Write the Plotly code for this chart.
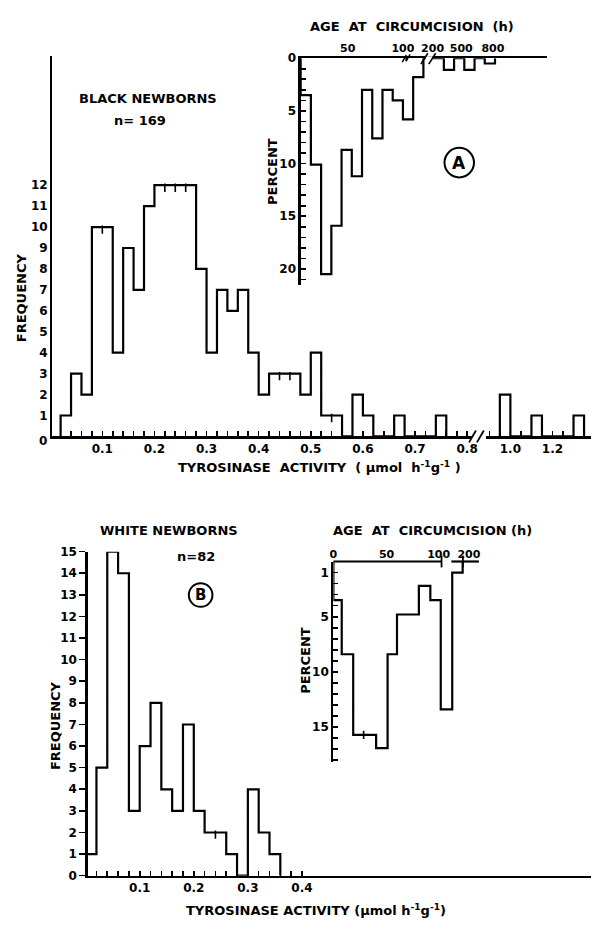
import plotly.graph_objects as go

W, H = 597, 928
def fx(p): return p / W
def fy(p): return 1 - p / H

FONT = "DejaVu Sans"

# ---------------- data ----------------
# Panel A main histogram (Black newborns), bin width 0.02
black_bin_lo = [0.02, 0.04, 0.06, 0.08, 0.10, 0.12, 0.14, 0.16, 0.18, 0.20,
                0.22, 0.24, 0.26, 0.28, 0.30, 0.32, 0.34, 0.36, 0.38, 0.40,
                0.42, 0.44, 0.46, 0.48, 0.50, 0.52, 0.54, 0.56, 0.58, 0.60,
                0.62, 0.64, 0.66, 0.68, 0.70, 0.72, 0.74]
black_freq = [1, 3, 2, 10, 10, 4, 9, 7, 11, 12,
              12, 12, 12, 8, 4, 7, 6, 7, 4, 2,
              3, 3, 3, 2, 4, 1, 1, 0, 2, 1,
              0, 0, 1, 0, 0, 0, 1]
black_bin_w = 0.02
# after the axis break, bin width 0.05
black_hi_bin_lo = [0.95, 1.00, 1.05, 1.10, 1.15, 1.20, 1.25, 1.30]
black_hi_freq = [2, 0, 0, 1, 0, 0, 0, 1]
black_hi_bin_w = 0.05

# Panel B main histogram (White newborns)
white_bin_lo = [0.00, 0.02, 0.04, 0.06, 0.08, 0.10, 0.12, 0.14, 0.16, 0.18,
                0.20, 0.22, 0.24, 0.26, 0.28, 0.30, 0.32, 0.34]
white_freq = [1, 5, 15, 14, 3, 6, 8, 4, 3, 7, 3, 2, 2, 1, 0, 4, 2, 1]
white_bin_w = 0.02

# Inset A: age at circumcision (broken axis, position units)
age_a_bin_lo = [0, 10, 20, 30, 40, 50, 60, 70, 80, 90, 100, 110,
                120, 130, 140, 150, 160, 170, 180]
age_a_pct = [3.5, 10.1, 20.5, 15.9, 8.7, 11.2, 3.0, 7.6, 3.0, 4.0, 5.8, 1.8,
             0, 0, 1.1, 0, 1.1, 0, 0.5]
age_a_bin_w = 10
age_a_tickpos = [46, 100, 129, 157, 188]
age_a_ticktext = ["50", "100", "200", "500", "800"]
age_a_tickmarks = [10, 20, 30, 40, 50, 60, 70, 80, 90, 100, 150, 170, 201]

# Inset B
age_b_edges = [0, 8, 19, 29, 41, 52, 61, 82, 93, 103, 114, 124]
age_b_pct = [3.5, 8.4, 15.7, 15.7, 16.9, 8.4, 4.8, 2.2, 3.5, 13.4, 1.0]
age_b_tickpos = [0, 51, 101, 130]
age_b_ticktext = ["0", "50", "100", "200"]
age_b_tickmarks = [10, 20, 30, 40, 50, 60, 70, 80, 90, 100]

# axis tick grids (value, label)
top_x_ticks = [round(0.02 * i, 2) for i in range(1, 41)]
top_x_labels = ["0.1", "0.2", "0.3", "0.4", "0.5", "0.6", "0.7", "0.8"]
hi_x_ticks = [0.90, 0.95, 1.00, 1.05, 1.10, 1.15, 1.20, 1.25, 1.30, 1.35]
hi_x_labels = ["1.0", "1.2"]
bot_x_ticks = [round(0.02 * i, 2) for i in range(1, 21)]
bot_x_labels = ["0.1", "0.2", "0.3", "0.4"]


def lab(vals, labels):
    out = []
    for v in vals:
        s = f"{v:.1f}"
        out.append(s if s in labels and abs(v - float(s)) < 1e-9 else "")
    return out


def step_xy(edges, vals):
    xs = [edges[0]] + edges[:len(vals)] + [edges[len(vals)]]
    ys = [0] + list(vals) + [0]
    return xs, ys


def edges_from(lo, w):
    return list(lo) + [lo[-1] + w]


def equal_marks(edges, vals, drop):
    mx, my = [], []
    for i in range(len(vals) - 1):
        if vals[i] == vals[i + 1] and vals[i] > 0:
            mx.append(edges[i + 1])
            my.append(vals[i] - drop)
    return mx, my


fig = go.Figure()
LINE = dict(color="black", width=2.2)
MARK = dict(symbol="line-ns", size=6, line=dict(color="black", width=1.6))


def add_hist(edges, vals, xa, ya, drop):
    xs, ys = step_xy(edges, vals)
    fig.add_trace(go.Scatter(x=xs, y=ys, mode="lines", line=LINE, line_shape="hv",
                             xaxis=xa, yaxis=ya, hoverinfo="skip"))
    mx, my = equal_marks(edges, vals, drop)
    if mx:
        fig.add_trace(go.Scatter(x=mx, y=my, mode="markers", marker=MARK,
                                 xaxis=xa, yaxis=ya, hoverinfo="skip"))


add_hist(edges_from(black_bin_lo, black_bin_w), black_freq, "x", "y", 0.12)
add_hist(edges_from(black_hi_bin_lo, black_hi_bin_w), black_hi_freq, "x2", "y", 0.12)
add_hist(edges_from(age_a_bin_lo, age_a_bin_w), age_a_pct, "x3", "y3", 0.0)
add_hist(age_b_edges, age_b_pct, "x4", "y4", 0.0)
add_hist(edges_from(white_bin_lo, white_bin_w), white_freq, "x5", "y5", 0.1)

TF = dict(family=FONT, size=12, color="black", weight="bold")
TF11 = dict(family=FONT, size=11, color="black", weight="bold")
common = dict(showgrid=False, zeroline=False, linecolor="black", linewidth=2.2,
              tickcolor="black", tickwidth=1.6, fixedrange=True, tickangle=0)

a_y_ticks = list(range(0, 22))
b_y_ticks = list(range(1, 19))

fig.update_layout(
    width=W, height=H, margin=dict(l=0, r=0, t=0, b=0),
    paper_bgcolor="white", plot_bgcolor="rgba(0,0,0,0)", showlegend=False,
    xaxis=dict(domain=[fx(49), fx(476)], range=[0.0038, 0.8094], anchor="y",
               showline=True, ticks="inside", ticklen=5, tickfont=TF,
               tickvals=top_x_ticks, ticktext=lab(top_x_ticks, top_x_labels), **common),
    xaxis2=dict(domain=[fx(490), 1], range=[0.8832, 1.383], anchor="y",
                showline=True, ticks="inside", ticklen=5, tickfont=TF,
                tickvals=hi_x_ticks, ticktext=lab(hi_x_ticks, hi_x_labels), **common),
    yaxis=dict(domain=[fy(436), fy(50)], range=[0, 18.16], anchor="x", tickfont=TF,
               showline=True, ticks="", tickvals=list(range(1, 13)), **common),
    xaxis3=dict(domain=[fx(301.7), fx(552)], range=[0, 240.6], anchor="y3", side="top",
                showline=True, ticks="", tickvals=age_a_tickpos, ticktext=age_a_ticktext,
                tickfont=TF11, **common),
    xaxis6=dict(domain=[fx(301.7), fx(552)], range=[0, 240.6], anchor="y3", side="top",
                overlaying="x3", showline=False, ticks="inside", ticklen=5,
                tickvals=age_a_tickmarks, showticklabels=False, **common),
    yaxis3=dict(domain=[fy(282), fy(52)], range=[21.5, 0], anchor="x3", tickfont=TF,
                showline=True, ticks="inside", ticklen=5, tickvals=a_y_ticks,
                ticktext=[str(v) if v % 5 == 0 else "" for v in a_y_ticks], **common),
    xaxis4=dict(domain=[fx(335), fx(483)], range=[0, 139.6], anchor="y4", side="top",
                showline=False, ticks="", tickvals=age_b_tickpos, ticktext=age_b_ticktext,
                tickfont=TF11, **common),
    xaxis7=dict(domain=[fx(335), fx(483)], range=[0, 139.6], anchor="y4", side="top",
                overlaying="x4", showline=False, ticks="inside", ticklen=5,
                tickvals=age_b_tickmarks, showticklabels=False, **common),
    yaxis4=dict(domain=[fy(767), fy(563)], range=[18.2, 0], anchor="x4", tickfont=TF,
                showline=True, ticks="inside", ticklen=5, tickvals=b_y_ticks,
                ticktext=[str(v) if v in (1, 5, 10, 15) else "" for v in b_y_ticks], **common),
    xaxis5=dict(domain=[fx(85), 1], range=[0.0036, 0.9345], anchor="y5",
                showline=True, ticks="inside", ticklen=5, tickfont=TF,
                tickvals=bot_x_ticks, ticktext=lab(bot_x_ticks, bot_x_labels), **common),
    yaxis5=dict(domain=[fy(882), fy(553)], range=[0, 15], anchor="x5", tickfont=TF,
                showline=True, ticks="outside", ticklen=6, tickvals=list(range(0, 16)),
                **common),
    yaxis6=dict(domain=[fy(882), fy(553)], range=[0, 15], anchor="x5", overlaying="y5",
                showline=False, ticks="inside", ticklen=5, tickvals=list(range(0, 16)),
                showticklabels=False, **common),
)


def seg(x0, y0, x1, y1, w=2.2):
    fig.add_shape(type="line", xref="paper", yref="paper",
                  x0=fx(x0), y0=fy(y0), x1=fx(x1), y1=fy(y1),
                  line=dict(color="black", width=w))


def wrect(x0, y0, x1, y1):
    fig.add_shape(type="rect", xref="paper", yref="paper",
                  x0=fx(x0), y0=fy(y0), x1=fx(x1), y1=fy(y1),
                  line=dict(width=0), fillcolor="white", layer="above")


# break marks, main A axis
seg(473, 442, 480, 430, 1.8)
seg(481, 442, 488, 430, 1.8)
# break marks, inset A axis
seg(405, 56, 409, 49, 1.5)
seg(409, 49, 409, 55, 1.5)
seg(409, 55, 413, 48, 1.5)
wrect(429, 50, 436, 54.5)
seg(424, 58, 431, 47, 1.6)
seg(432, 58, 439, 47, 1.6)
# inset B axis segments
seg(335, 563, 445, 563)
seg(455, 563, 483, 563)
seg(445, 557, 445, 569, 1.8)
seg(466.7, 557, 466.7, 569, 1.8)
# circles
fig.add_shape(type="circle", xref="paper", yref="paper",
              x0=fx(448), x1=fx(478), y0=fy(173), y1=fy(143),
              line=dict(color="black", width=2))
fig.add_shape(type="circle", xref="paper", yref="paper",
              x0=fx(188), x1=fx(212), y0=fy(609), y1=fy(585),
              line=dict(color="black", width=2))


def txt(x, y, s, size=13, angle=0):
    fig.add_annotation(x=fx(x), y=fy(y), xref="paper", yref="paper", text=s,
                       showarrow=False, textangle=angle, xanchor="center", yanchor="middle",
                       font=dict(family=FONT, size=size, color="black", weight="bold"))


txt(146, 93, "BLACK NEWBORNS")
txt(138, 115, "n= 169")
txt(18, 295, "FREQUENCY", angle=-90)
txt(40, 441, "0", 12)
txt(415, 20, "AGE&nbsp;&nbsp;AT&nbsp;&nbsp;CIRCUMCISION&nbsp;&nbsp;(h)")
txt(273, 167, "PERCENT", angle=-90)
txt(463, 158, "A", 17)
txt(321, 467, "TYROSINASE&nbsp;&nbsp;ACTIVITY&nbsp;&nbsp;(&nbsp;μmol&nbsp;&nbsp;h<sup>-1</sup>g<sup>-1</sup>&nbsp;)")

txt(168, 532, "WHITE NEWBORNS")
txt(195, 558, "n=82")
txt(200, 597, "B", 15)
txt(53, 730, "FREQUENCY", angle=-90)
txt(436, 532, "AGE&nbsp;&nbsp;AT&nbsp;&nbsp;CIRCUMCISION&nbsp;(h)")
txt(307, 663, "PERCENT", angle=-90)
txt(317, 917, "TYROSINASE&nbsp;ACTIVITY&nbsp;(μmol&nbsp;h<sup>-1</sup>g<sup>-1</sup>)")

fig.write_html("out.html", config={"staticPlot": True},
               post_script="document.body.style.margin='0';document.body.style.overflow='hidden';")
